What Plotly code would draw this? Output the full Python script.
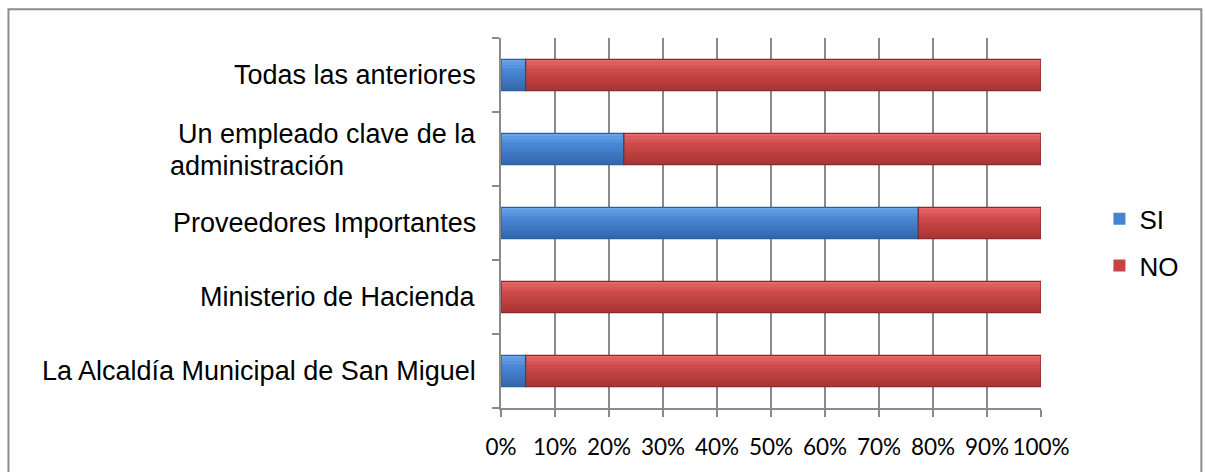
import plotly.graph_objects as go

# Entities asked about (bottom to top as drawn)
categories = [
    "La Alcaldía Municipal de San Miguel",
    "Ministerio de Hacienda",
    "Proveedores Importantes",
    "Un empleado clave de la<br>administración",
    "Todas las anteriores",
]
si_values = [4.55, 0.0, 77.27, 22.73, 4.55]
no_values = [95.45, 100.0, 22.73, 77.27, 95.45]
x_ticks = [0, 10, 20, 30, 40, 50, 60, 70, 80, 90, 100]
x_tick_labels = [f"{v}%" for v in x_ticks]

W, H = 1205, 472
ML, MR, MT, MB = 501, 163.5, 38, 60
plot_w = W - ML - MR
plot_h = H - MT - MB

pos = list(range(len(categories)))
BAR_W = 0.42
HALF = BAR_W / 2
N_STRIPS = 10

series = [
    dict(name="SI", x=si_values, base=[0.0] * len(si_values), color="#4684d3", edge="#2d5f9f",
         stops=[(0.0, (112, 168, 236)), (0.35, (74, 136, 214)), (1.0, (50, 100, 170))]),
    dict(name="NO", x=no_values, base=si_values, color="#c94344", edge="#8c2a2b",
         stops=[(0.0, (232, 110, 110)), (0.35, (208, 74, 74)), (1.0, (165, 52, 52))]),
]


def shade(stops, t):
    for (t0, c0), (t1, c1) in zip(stops, stops[1:]):
        if t0 <= t <= t1:
            f = (t - t0) / (t1 - t0)
            return "rgb(%d,%d,%d)" % tuple(round(a + (b - a) * f) for a, b in zip(c0, c1))
    return "rgb(%d,%d,%d)" % stops[-1][1]


fig = go.Figure()
# legend entries / base fill
for s in series:
    fig.add_trace(go.Bar(
        name=s["name"], y=pos, x=s["x"], base=s["base"], orientation="h",
        width=BAR_W, offset=-HALF, legendgroup=s["name"],
        marker=dict(color=s["color"], line=dict(width=0)),
        showlegend=True, hoverinfo="skip",
    ))
# vertical shading strips, top (light) to bottom (dark)
strip_w = BAR_W / N_STRIPS
for s in series:
    for k in range(N_STRIPS):
        t = (k + 0.5) / N_STRIPS
        fig.add_trace(go.Bar(
            y=pos, x=s["x"], base=s["base"], orientation="h",
            width=strip_w * 1.02, offset=HALF - (k + 1) * strip_w,
            marker=dict(color=shade(s["stops"], t), line=dict(width=0)),
            showlegend=False, hoverinfo="skip",
        ))
# bar outlines
for s in series:
    fig.add_trace(go.Bar(
        y=pos, x=s["x"], base=s["base"], orientation="h",
        width=BAR_W, offset=-HALF,
        marker=dict(color="rgba(0,0,0,0)", line=dict(color=s["edge"], width=1.2)),
        showlegend=False, hoverinfo="skip",
    ))

# Category labels, drawn as annotations so the two-line label stays left-aligned
label_font = dict(family="Liberation Sans, Arial, sans-serif", size=27, color="#000000")
label_right = -23 / plot_w
for i, name in enumerate(categories):
    lines = name.split("<br>")
    if len(lines) == 1:
        fig.add_annotation(
            x=label_right, xref="paper", y=i, yref="y",
            text=name, showarrow=False, xanchor="right", yanchor="middle",
            font=label_font,
        )
    else:
        fig.add_annotation(
            x=label_right, xref="paper", y=i, yref="y", yshift=15,
            text=lines[0], showarrow=False, xanchor="right", yanchor="middle",
            font=label_font,
        )
        fig.add_annotation(
            x=(168 - ML) / plot_w, xref="paper", y=i, yref="y", yshift=-17,
            text=lines[1], showarrow=False, xanchor="left", yanchor="middle",
            font=label_font,
        )

# Outer chart frame
fig.add_shape(
    type="rect", xref="paper", yref="paper",
    x0=(8 - ML) / plot_w, x1=(1202 - ML) / plot_w,
    y0=(MT + plot_h - 480) / plot_h, y1=(MT + plot_h - 9) / plot_h,
    line=dict(color="#8c8c8c", width=2), fillcolor="rgba(0,0,0,0)", layer="below",
)

fig.update_layout(
    width=W, height=H,
    margin=dict(l=ML, r=MR, t=MT, b=MB),
    paper_bgcolor="white", plot_bgcolor="white",
    barmode="overlay",
    showlegend=True,
    legend=dict(
        x=(1100 - ML) / plot_w, y=(MT + plot_h - 197) / plot_h,
        xanchor="left", yanchor="top",
        font=dict(family="Liberation Sans, Arial, sans-serif", size=26, color="#000000"),
        tracegroupgap=10, traceorder="grouped", itemwidth=30,
        bgcolor="rgba(0,0,0,0)",
    ),
    xaxis=dict(
        range=[0, 100], tickvals=x_ticks, ticktext=x_tick_labels,
        showgrid=True, gridcolor="#8a8a8a", gridwidth=1.5,
        showline=True, linecolor="#8a8a8a", linewidth=1.5, zeroline=False,
        ticks="outside", ticklen=7, tickcolor="#8a8a8a", tickwidth=1.5,
        tickfont=dict(family="Lato, Carlito, sans-serif", size=22.5, color="#000000"),
        ticklabelstandoff=11,
        fixedrange=True,
    ),
    yaxis=dict(
        range=[-0.5, len(categories) - 0.5],
        tickvals=[i - 0.5 for i in range(len(categories) + 1)],
        showticklabels=False,
        ticks="outside", ticklen=7, tickcolor="#8a8a8a", tickwidth=1.5,
        showgrid=False, zeroline=False,
        showline=True, linecolor="#8a8a8a", linewidth=1.5,
        fixedrange=True,
    ),
)

fig.write_html("out.html")
